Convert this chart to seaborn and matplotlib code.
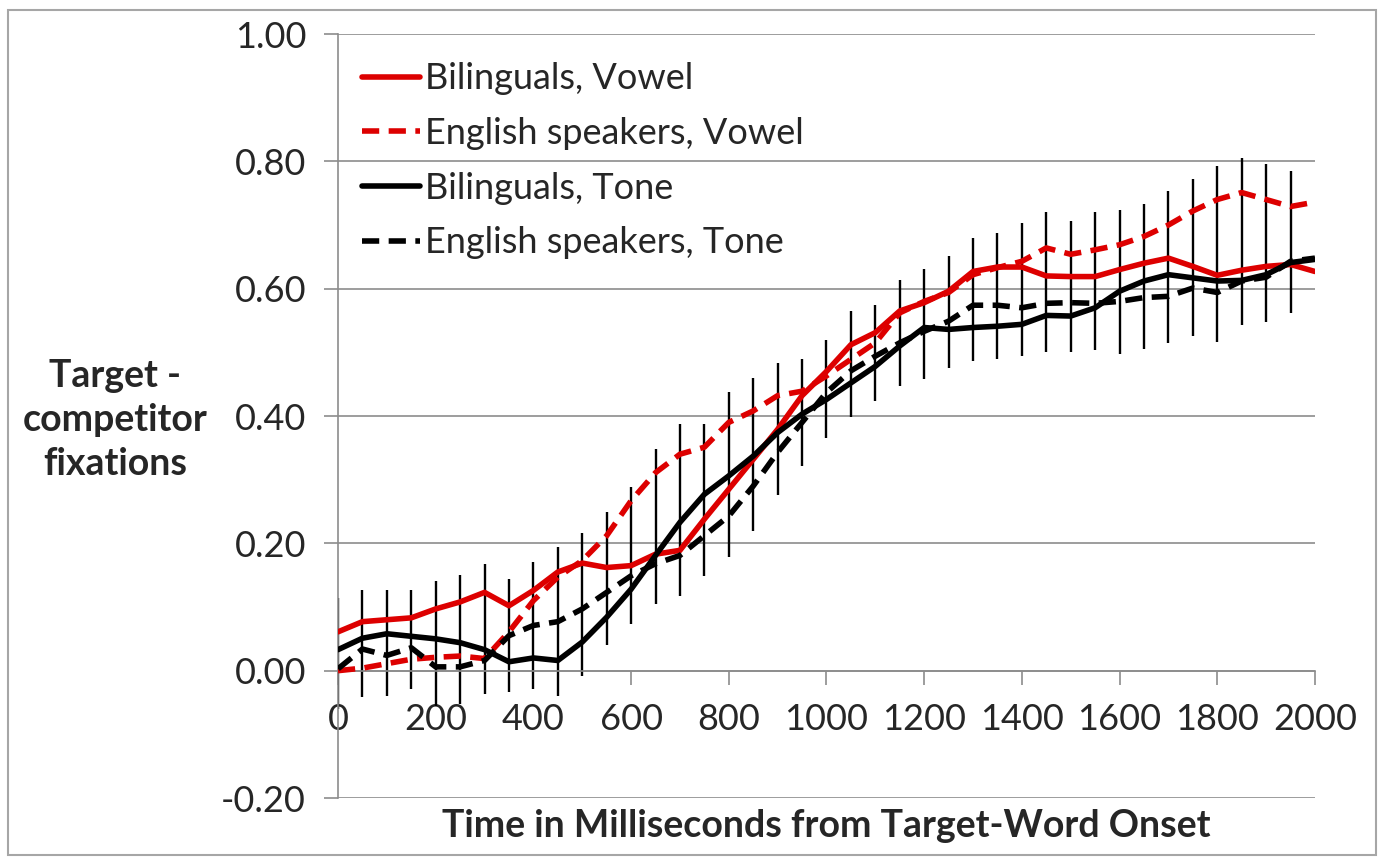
import numpy as np
import pandas as pd
import matplotlib
matplotlib.use("Agg")
import matplotlib.pyplot as plt
import seaborn as sns
from matplotlib.ticker import FormatStrFormatter, MultipleLocator
from matplotlib.patches import Rectangle

# time points (ms from target-word onset)
time_ms = list(range(0, 2001, 50))

bil_vowel = [0.061, 0.077, 0.080, 0.083, 0.097, 0.108, 0.123, 0.102, 0.126, 0.155,
             0.169, 0.162, 0.165, 0.183, 0.189, 0.238, 0.285, 0.332, 0.379, 0.432,
             0.470, 0.512, 0.531, 0.565, 0.578, 0.596, 0.627, 0.634, 0.634, 0.620,
             0.619, 0.619, 0.630, 0.640, 0.648, 0.635, 0.621, 0.629, 0.635, 0.638,
             0.627]
eng_vowel = [0.000, 0.004, 0.011, 0.018, 0.021, 0.023, 0.019, 0.061, 0.110, 0.147,
             0.173, 0.212, 0.267, 0.311, 0.340, 0.351, 0.390, 0.408, 0.432, 0.439,
             0.463, 0.489, 0.515, 0.562, 0.580, 0.594, 0.622, 0.633, 0.643, 0.664,
             0.654, 0.661, 0.669, 0.682, 0.700, 0.722, 0.740, 0.751, 0.740, 0.729,
             0.736]
bil_tone = [0.033, 0.051, 0.058, 0.054, 0.050, 0.044, 0.033, 0.014, 0.020, 0.016,
            0.045, 0.084, 0.128, 0.181, 0.233, 0.277, 0.306, 0.337, 0.374, 0.403,
            0.426, 0.452, 0.478, 0.510, 0.539, 0.536, 0.539, 0.541, 0.544, 0.558,
            0.557, 0.570, 0.596, 0.612, 0.622, 0.617, 0.612, 0.613, 0.622, 0.641,
            0.646]
eng_tone = [0.003, 0.034, 0.024, 0.036, 0.006, 0.006, 0.016, 0.055, 0.071, 0.077,
            0.097, 0.123, 0.149, 0.168, 0.181, 0.212, 0.243, 0.290, 0.343, 0.390,
            0.437, 0.471, 0.494, 0.515, 0.533, 0.549, 0.574, 0.574, 0.570, 0.577,
            0.578, 0.577, 0.580, 0.586, 0.588, 0.601, 0.594, 0.612, 0.618, 0.643,
            0.648]

# error bar ends (no bar at 2000 ms)
err_low = [-0.060, -0.041, -0.039, -0.028, -0.056, -0.052, -0.036, -0.033, -0.028, -0.039,
           -0.009, 0.040, 0.074, 0.105, 0.118, 0.149, 0.178, 0.220, 0.276, 0.322,
           0.366, 0.398, 0.424, 0.447, 0.458, 0.476, 0.486, 0.489, 0.494, 0.500,
           0.500, 0.504, 0.497, 0.506, 0.514, 0.526, 0.517, 0.543, 0.547, 0.562]
err_high = [0.114, 0.127, 0.127, 0.127, 0.141, 0.150, 0.167, 0.144, 0.170, 0.194,
            0.216, 0.249, 0.288, 0.348, 0.387, 0.387, 0.437, 0.460, 0.483, 0.490,
            0.519, 0.565, 0.575, 0.614, 0.631, 0.651, 0.680, 0.688, 0.703, 0.720,
            0.707, 0.720, 0.723, 0.733, 0.753, 0.772, 0.792, 0.805, 0.796, 0.785]

series_names = ["Bilinguals, Vowel", "English speakers, Vowel",
                "Bilinguals, Tone", "English speakers, Tone"]
series_vals = [bil_vowel, eng_vowel, bil_tone, eng_tone]

df = pd.concat([pd.DataFrame({"Time": time_ms, "Value": v, "Group": n})
                for n, v in zip(series_names, series_vals)], ignore_index=True)

RED = "#DD0000"
LW = 4.0
palette = {series_names[0]: RED, series_names[1]: RED,
           series_names[2]: "black", series_names[3]: "black"}
dash_map = {series_names[0]: "", series_names[1]: (3.1, 1.7),
            series_names[2]: "", series_names[3]: (3.1, 1.7)}

sns.set_style("white")
plt.rcParams["font.family"] = ["Lato", "DejaVu Sans"]
plt.rcParams["axes.unicode_minus"] = False

fig = plt.figure(figsize=(13.83, 8.63), dpi=100)
ax = fig.add_axes([0.2444, 0.0753, 0.7064, 0.8853])

# error bars first so the lines sit on top
ax.vlines(time_ms[:len(err_low)], err_low, err_high, color="black", lw=1.7, zorder=2)

sns.lineplot(data=df, x="Time", y="Value", hue="Group", style="Group",
             hue_order=series_names, style_order=series_names,
             palette=palette, dashes=dash_map, linewidth=LW, ax=ax, zorder=3)
for line in ax.get_lines():
    line.set_linewidth(LW)

ax.set_xlim(0, 2000)
ax.set_ylim(-0.2, 1.0)
ax.xaxis.set_major_locator(MultipleLocator(200))
ax.yaxis.set_major_locator(MultipleLocator(0.2))
ax.yaxis.set_major_formatter(FormatStrFormatter("%.2f"))

grey = "#8C8C8C"
ax.grid(axis="y", color=grey, lw=1.2)
ax.set_axisbelow(True)
for s in ["top", "right"]:
    ax.spines[s].set_visible(False)
ax.spines["bottom"].set_position(("data", 0))
ax.spines["bottom"].set_color(grey)
ax.spines["left"].set_color(grey)
ax.spines["bottom"].set_linewidth(1.2)
ax.spines["left"].set_linewidth(1.2)
ax.tick_params(axis="both", direction="out", length=10, width=1.2, color=grey,
               labelsize=26, pad=13, bottom=True, left=True)

ax.set_xlabel("Time in Milliseconds from Target-Word Onset", fontsize=27,
              fontweight="bold", va="top")
ax.xaxis.set_label_coords(0.5, -0.015)
ax.set_ylabel("Target -\ncompetitor\nfixations", fontsize=27, fontweight="bold",
              rotation=0, ha="center", va="center", linespacing=1.35)
ax.yaxis.set_label_coords(-0.228, 0.495)

handles, labels = ax.get_legend_handles_labels()
for h in handles:
    h.set_linewidth(LW)
ax.legend(handles, labels, loc="upper left", bbox_to_anchor=(0.0246, 0.963),
          frameon=False, fontsize=26, handlelength=1.6, handletextpad=0.15,
          labelspacing=0.6, borderpad=0, borderaxespad=0)

fig.patches.append(Rectangle((8 / 1383, 1 - 855 / 863), 1368 / 1383, 845 / 863,
                             transform=fig.transFigure, fill=False,
                             edgecolor="#A6A6A6", lw=1.5))

fig.savefig("out.png", dpi=100)
